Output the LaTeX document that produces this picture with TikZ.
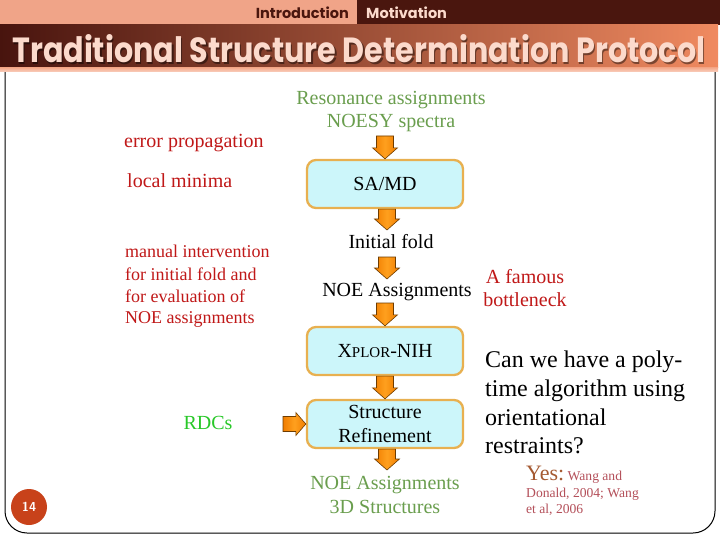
\documentclass[tikz,border=0pt]{standalone}
\usepackage{fontspec}
\setmainfont{Liberation Serif}
\newfontfamily\titlefont{Poppins}
\usetikzlibrary{calc}
\definecolor{topbar}{RGB}{240,164,136}
\definecolor{darkbr}{RGB}{74,22,14}
\definecolor{bandL}{RGB}{72,20,14}
\definecolor{bandR}{RGB}{240,138,96}
\definecolor{titletxt}{RGB}{252,218,204}
\definecolor{txtgreen}{RGB}{106,158,78}
\definecolor{txtred}{RGB}{192,24,24}
\definecolor{rdcgreen}{RGB}{40,200,40}
\definecolor{yescol}{RGB}{165,90,50}
\definecolor{citecol}{RGB}{180,80,90}
\definecolor{boxfill}{RGB}{204,246,250}
\definecolor{boxline}{RGB}{232,176,80}
\definecolor{arrfill}{RGB}{240,125,0}
\definecolor{arrmid}{RGB}{255,160,30}
\definecolor{arrline}{RGB}{110,60,0}
\definecolor{pagecol}{RGB}{200,66,26}
\newcommand\fs[2]{\fontsize{#1}{#2}\selectfont}
\newcommand\darrow[2]{\path[blockarr] let \p1=(#1), \p2=(#2) in
  (\x2-8.5pt,\y1) -- (\x2+8.5pt,\y1) -- (\x2+8.5pt,\y2+11pt) -- (\x2+12.5pt,\y2+11pt)
  -- (\x2,\y2) -- (\x2-12.5pt,\y2+11pt) -- (\x2-8.5pt,\y2+11pt) -- cycle;}
\newcommand\rarrow[2]{\path[blockarr] let \p1=(#1), \p2=(#2) in
  (\x1,\y2+7.5pt) -- (\x1,\y2-7.5pt) -- (\x2-10pt,\y2-7.5pt) -- (\x2-10pt,\y2-11.5pt)
  -- (\x2,\y2) -- (\x2-10pt,\y2+11.5pt) -- (\x2-10pt,\y2+7.5pt) -- cycle;}
\begin{document}
\begin{tikzpicture}[x=1pt,y=-1pt,
  blockarr/.style={left color=arrfill,right color=arrfill,middle color=arrmid,draw=arrline,line width=0.6pt},
  procbox/.style={draw=boxline,fill=boxfill,line width=2.3pt,rounded corners=9pt,
    minimum width=156pt,minimum height=48pt,inner sep=0pt,align=center,font=\fs{20}{23.5}},
  ctxt/.style={anchor=base,inner sep=0pt},
  ltxt/.style={anchor=base west,inner sep=0pt},
  greentxt/.style={ctxt,text=txtgreen,font=\fs{20}{24}},
  redtxt/.style={ltxt,text=txtred},
  blacktxt/.style={ctxt,font=\fs{20}{24}}]
\useasboundingbox (0,0) rectangle (720,540);
\fill[white] (0,0) rectangle (720,540);
% frame
\draw[line width=1pt,rounded corners=22pt] (5,40) rectangle (715,533);
% top bar
\fill[topbar] (0,0) rectangle (720,25);
\fill[darkbr] (357,0) rectangle (720,25);
\node[anchor=base east,inner sep=0pt,text=darkbr,font=\titlefont\bfseries\fs{14.5}{16}] (intro) at (349,19) {Introduction};
\node[anchor=base west,inner sep=0pt,text=titletxt,font=\titlefont\bfseries\fs{14.5}{16}] (motiv) at (366,19) {Motivation};
% title band
\shade[left color=bandL,right color=bandR] (0,25) rectangle (718,68);
\shade[top color=bandR!70!white,bottom color=bandR!40!white] (0,68) rectangle (718,72);
\node[anchor=base west,inner sep=0pt,text=black,opacity=0.45] (titleshadow) at (13.5,64.5)
  {\resizebox{693pt}{28pt}{\titlefont\bfseries Traditional Structure Determination Protocol}};
\node[anchor=base west,inner sep=0pt,text=titletxt] (title) at (12,63)
  {\resizebox{693pt}{28pt}{\titlefont\bfseries Traditional Structure Determination Protocol}};
% central column
\node[greentxt] (reson) at (391,105) {Resonance assignments};
\node[greentxt] (noesy) at (391,128) {NOESY spectra};
\node[procbox] (samd) at (385,184) {SA/MD};
\node[blacktxt] (initf) at (391,248) {Initial fold};
\node[blacktxt] (noeasg) at (397,296) {NOE Assignments};
\node[procbox] (xplor) at (385,351) {X{\fs{15}{18}PLOR}-NIH};
\node[procbox] (sref) at (385,424) {Structure\\Refinement};
\node[greentxt] (noeout) at (385,489) {NOE Assignments};
\node[greentxt] (struct3d) at (385,513) {3D Structures};
\coordinate (a1s) at (387,136);
\coordinate (a2e) at (387,230);
\coordinate (a3s) at (387,257);
\coordinate (a3e) at (387,279);
\coordinate (a4s) at (387,303);
\coordinate (a6e) at (387,470);
\coordinate (a7s) at (283,423);
\darrow{a1s}{samd.north}
\darrow{samd.south}{a2e}
\darrow{a3s}{a3e}
\darrow{a4s}{xplor.north}
\darrow{xplor.south}{sref.north}
\darrow{sref.south}{a6e}
\rarrow{a7s}{sref.west}
% left red remarks
\node[redtxt,font=\fs{20}{24}] (errp) at (124,148) {error propagation};
\node[redtxt,font=\fs{20}{24}] (locm) at (127,188) {local minima};
\node[redtxt,font=\fs{18}{22}] (man1) at (125,258) {manual intervention};
\node[redtxt,font=\fs{18}{22}] (man2) at (125,280) {for initial fold and};
\node[redtxt,font=\fs{18}{22}] (man3) at (125,302) {for evaluation of};
\node[redtxt,font=\fs{18}{22}] (man4) at (125,323) {NOE assignments};
\node[ctxt,text=rdcgreen,font=\fs{20}{24}] (rdcs) at (208,429) {RDCs};
% right remarks
\node[ctxt,text=txtred,font=\fs{20}{24}] (fam1) at (525,283) {A famous};
\node[ctxt,text=txtred,font=\fs{20}{24}] (fam2) at (525,306) {bottleneck};
\node[ltxt,font=\fs{24}{29}] (q1) at (485,367) {Can we have a poly-};
\node[ltxt,font=\fs{24}{29}] (q2) at (485,396) {time algorithm using};
\node[ltxt,font=\fs{24}{29}] (q3) at (485,425) {orientational};
\node[ltxt,font=\fs{24}{29}] (q4) at (485,453) {restraints?};
\node[ltxt] (yes) at (526,480) {{\color{yescol}\fs{22}{26}Yes:} {\color{citecol}\fs{13.6}{16}Wang and}};
\node[ltxt,text=citecol,font=\fs{13.6}{16}] (cite2) at (526,497) {Donald, 2004; Wang};
\node[ltxt,text=citecol,font=\fs{13.6}{16}] (cite3) at (526,513) {et al, 2006};
% page number
\node[circle,fill=pagecol,minimum size=36pt,inner sep=0pt,text=white,font=\sffamily\bfseries\fs{13}{15}] (pagenum) at (29,507) {14};
\end{tikzpicture}
\end{document}
